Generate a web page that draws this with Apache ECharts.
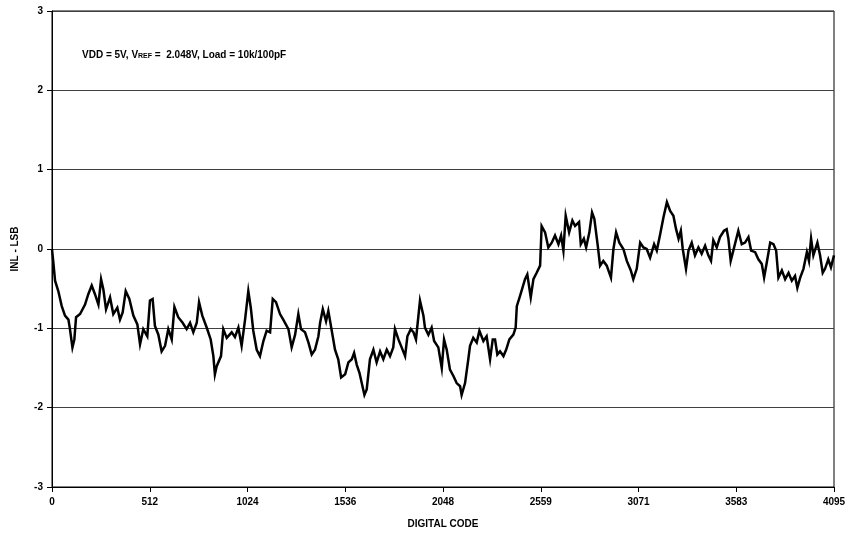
<!DOCTYPE html>
<html>
<head>
<meta charset="utf-8">
<script src="https://cdn.jsdelivr.net/npm/echarts@6/dist/echarts.min.js"></script>
<style>
html,body{margin:0;padding:0;background:#fff;}
#chart{width:851px;height:539px;}
</style>
</head>
<body>
<div id="chart"></div>
<script>
var codes = [0,7,16,33,51,68,86,94,107,117,126,147,173,190,208,225,243,257,269,283,304,321,342,356,370,386,405,426,447,461,478,499,513,527,539,557,574,592,609,627,641,661,684,705,723,740,758,770,787,810,831,845,853,862,885,897,915,941,958,976,993,1011,1028,1041,1054,1072,1089,1107,1124,1142,1156,1173,1194,1211,1238,1255,1273,1290,1304,1325,1343,1360,1377,1395,1404,1418,1435,1447,1465,1482,1499,1514,1535,1552,1570,1582,1596,1610,1622,1636,1648,1665,1683,1700,1718,1735,1753,1770,1787,1796,1814,1831,1849,1861,1879,1893,1906,1927,1945,1953,1971,1988,2001,2023,2041,2053,2067,2084,2102,2119,2137,2145,2163,2180,2189,2206,2224,2238,2259,2276,2294,2308,2320,2332,2346,2364,2378,2395,2416,2428,2434,2451,2477,2489,2507,2521,2538,2556,2564,2582,2599,2617,2634,2652,2666,2678,2690,2708,2725,2739,2760,2769,2785,2797,2814,2828,2840,2858,2870,2887,2905,2927,2940,2954,2971,2992,3010,3031,3044,3062,3080,3097,3114,3132,3153,3167,3185,3202,3220,3237,3254,3268,3281,3293,3303,3320,3333,3350,3367,3385,3402,3420,3437,3451,3463,3481,3498,3519,3533,3542,3554,3572,3594,3612,3629,3647,3661,3682,3699,3717,3729,3743,3761,3778,3792,3804,3822,3839,3857,3874,3891,3903,3918,3935,3953,3964,3975,3987,4008,4022,4036,4048,4065,4079,4095];
var inl = [0,-0.17,-0.40,-0.53,-0.72,-0.84,-0.89,-1.01,-1.24,-1.14,-0.86,-0.82,-0.70,-0.57,-0.46,-0.57,-0.70,-0.38,-0.51,-0.76,-0.61,-0.82,-0.74,-0.89,-0.80,-0.53,-0.63,-0.84,-0.95,-1.20,-1.01,-1.10,-0.65,-0.63,-0.97,-1.08,-1.29,-1.22,-1.01,-1.14,-0.73,-0.86,-0.93,-1.01,-0.93,-1.05,-0.93,-0.67,-0.84,-0.99,-1.14,-1.35,-1.58,-1.48,-1.35,-1.01,-1.12,-1.05,-1.11,-0.99,-1.22,-0.89,-0.53,-0.74,-1.03,-1.27,-1.35,-1.16,-1.03,-1.05,-0.63,-0.67,-0.82,-0.89,-1.01,-1.24,-1.08,-0.82,-1.01,-1.05,-1.18,-1.33,-1.27,-1.10,-0.93,-0.76,-0.91,-0.78,-1.03,-1.27,-1.39,-1.62,-1.58,-1.43,-1.39,-1.31,-1.46,-1.56,-1.69,-1.84,-1.77,-1.39,-1.27,-1.43,-1.29,-1.39,-1.27,-1.35,-1.24,-1.01,-1.14,-1.24,-1.35,-1.10,-1.01,-1.05,-1.14,-0.65,-0.84,-0.99,-1.08,-0.99,-1.16,-1.24,-1.50,-1.14,-1.27,-1.52,-1.60,-1.69,-1.73,-1.84,-1.69,-1.39,-1.22,-1.12,-1.18,-1.03,-1.16,-1.10,-1.39,-1.14,-1.14,-1.33,-1.29,-1.35,-1.27,-1.14,-1.08,-0.99,-0.72,-0.59,-0.38,-0.32,-0.61,-0.38,-0.30,-0.21,0.29,0.21,0.02,0.08,0.17,0.06,0.17,-0.02,0.42,0.21,0.36,0.29,0.34,0.06,0.13,0.02,0.21,0.46,0.38,0.04,-0.21,-0.15,-0.21,-0.36,0,0.21,0.08,0,-0.15,-0.27,-0.38,-0.25,0.08,0.02,0,-0.11,0.06,-0.02,0.19,0.40,0.59,0.48,0.42,0.25,0.13,0.23,0,-0.25,-0.02,0.08,-0.08,0.02,-0.06,0.04,-0.08,-0.15,0.11,0.02,0.15,0.23,0.25,0.13,-0.15,0.02,0.23,0.06,0.08,0.15,-0.02,-0.04,-0.13,-0.19,-0.36,-0.17,0.08,0.06,-0.02,-0.36,-0.27,-0.38,-0.30,-0.40,-0.34,-0.49,-0.36,-0.25,-0.04,-0.15,0.13,-0.08,0.08,-0.08,-0.30,-0.25,-0.13,-0.23,-0.08];
var xTickLabels = ['0','512','1024','1536','2048','2559','3071','3583','4095'];
var yTickLabels = ['-3','-2','-1','0','1','2','3'];
var xAxisTitle = 'DIGITAL CODE';
var yAxisTitle = 'INL - LSB';

var pts = codes.map(function(c,i){return [c, inl[i]];});
var font = 'Liberation Sans, Arial, sans-serif';
var chart = echarts.init(document.getElementById('chart'), null, {renderer:'canvas'});
chart.setOption({
  animation:false,
  backgroundColor:'#fff',
  grid:{left:52, right:17, top:11, bottom:52, containLabel:false, show:true, borderColor:'#000', borderWidth:1},
  xAxis:{
    type:'value', min:0, max:4095, interval:511.875,
    name:xAxisTitle, nameLocation:'middle', nameGap:32,
    nameTextStyle:{fontFamily:font, fontWeight:'bold', fontSize:10, color:'#000'},
    axisLine:{show:true, onZero:false, lineStyle:{color:'#000', width:1}},
    axisTick:{show:true, length:5, lineStyle:{color:'#000'}},
    axisLabel:{margin:10, fontFamily:font, fontWeight:'bold', fontSize:10, color:'#000',
      formatter:function(v){return xTickLabels[Math.round(v/511.875)];}},
    splitLine:{show:false}
  },
  yAxis:{
    type:'value', min:-3, max:3, interval:1,
    name:yAxisTitle, nameLocation:'middle', nameGap:32, nameRotate:90,
    nameTextStyle:{fontFamily:font, fontWeight:'bold', fontSize:10, color:'#000'},
    axisLine:{show:true, onZero:false, lineStyle:{color:'#000', width:1}},
    axisTick:{show:true, length:5, lineStyle:{color:'#000'}},
    axisLabel:{margin:9, fontFamily:font, fontWeight:'bold', fontSize:10, color:'#000',
      formatter:function(v){return yTickLabels[Math.round(v+3)];}},
    splitLine:{show:true, lineStyle:{color:'#404040', width:1}}
  },
  series:[{
    type:'line', data:pts, showSymbol:false, smooth:false,
    lineStyle:{color:'#000', width:2.5, join:'miter'}
  }],
  graphic:[{
    type:'text', left:82, top:50,
    style:{
      text:'{a|VDD = 5V, V}{s|REF}{a| =  2.048V, Load = 10k/100pF}',
      rich:{
        a:{fontFamily:font, fontWeight:'bold', fontSize:10, fill:'#000', verticalAlign:'bottom'},
        s:{fontFamily:font, fontWeight:'bold', fontSize:7, fill:'#000', padding:[4,0,0,0], verticalAlign:'bottom'}
      }
    }
  }]
});
</script>
</body>
</html>
